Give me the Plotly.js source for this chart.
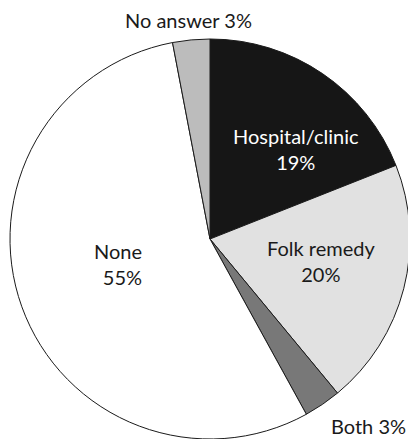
<!DOCTYPE html>
<html><head><meta charset="utf-8">
<script src="https://cdn.plot.ly/plotly-3.0.1.min.js"></script>
<style>html,body{margin:0;padding:0;overflow:hidden;background:#fff}#chart{width:412px;height:439px}</style>
</head><body><div id="chart"></div>
<script>
const labels = ["Hospital/clinic", "Folk remedy", "Both", "None", "No answer"];
const values = [19, 20, 3, 55, 3];
const pctText = ["19%", "20%", "3%", "55%", "3%"];
const colors = ["#161616", "#e1e1e1", "#787878", "#ffffff", "#bcbcbc"];
const textColors = ["#ffffff", "#1a1a1a", "#1a1a1a", "#1a1a1a", "#1a1a1a"];
// label placement (pixels from top-left): [x, y, xanchor, two-line?]
const labelPos = [
  [296, 149, "center", true],
  [321, 261, "center", true],
  [368, 426, "center", false],
  [144, 264, "right", true],
  [188, 20, "center", false]
];

const W = 412, H = 439;
const FONT = "Lato, 'Open Sans', sans-serif";

const trace = {
  type: "pie",
  labels: labels,
  values: values,
  sort: false,
  direction: "clockwise",
  rotation: 0,
  marker: { colors: colors, line: { color: "#1a1a1a", width: 1 } },
  textinfo: "none",
  hoverinfo: "none",
  showlegend: false,
  domain: { x: [10 / W, 410 / W], y: [0, 400 / H] }
};

const annotations = labels.map((lab, i) => {
  const p = labelPos[i];
  return {
    xref: "paper", yref: "paper", x: p[0] / W, y: 1 - p[1] / H,
    text: lab + (p[3] ? "<br>" : " ") + pctText[i], showarrow: false,
    align: p[2], xanchor: p[2], yanchor: "middle",
    font: { family: FONT, size: 20, color: textColors[i] }
  };
});

Plotly.newPlot("chart", [trace], {
  width: W, height: H,
  margin: { l: 0, r: 0, t: 0, b: 0 },
  paper_bgcolor: "#ffffff",
  annotations: annotations
}, { staticPlot: true });
</script></body></html>
